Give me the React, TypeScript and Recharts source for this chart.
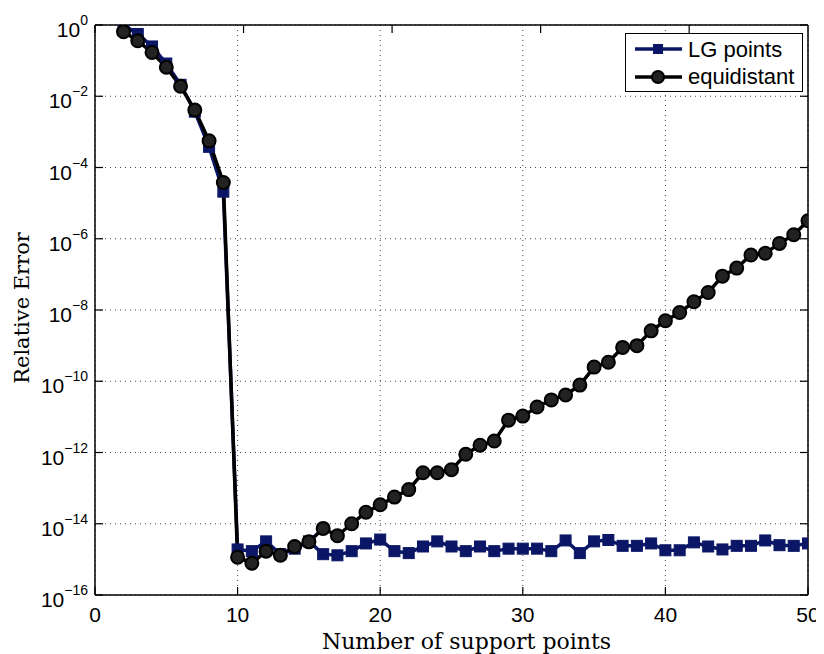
import React from "react";
import {
  LineChart,
  Line,
  XAxis,
  YAxis,
  CartesianGrid,
  Legend,
  Label,
} from "recharts";

const supportPoints = [
  2, 3, 4, 5, 6, 7, 8, 9, 10, 11, 12, 13, 14, 15, 16, 17, 18, 19, 20, 21, 22, 23, 24, 25,
  26, 27, 28, 29, 30, 31, 32, 33, 34, 35, 36, 37, 38, 39, 40, 41, 42, 43, 44, 45, 46, 47,
  48, 49, 50,
];

const lgPointsError = [
  1.0, 0.56, 0.25, 0.083, 0.021, 3.7e-3, 3.8e-4, 2.1e-5, 1.9e-15, 1.7e-15, 3.2e-15,
  1.4e-15, 2.0e-15, 3.2e-15, 1.4e-15, 1.3e-15, 1.7e-15, 2.8e-15, 3.6e-15, 1.7e-15,
  1.5e-15, 2.3e-15, 3.2e-15, 2.3e-15, 1.7e-15, 2.3e-15, 1.7e-15, 2.0e-15, 2.0e-15,
  2.0e-15, 1.7e-15, 3.4e-15, 1.5e-15, 3.2e-15, 3.5e-15, 2.4e-15, 2.4e-15, 2.8e-15,
  1.8e-15, 1.8e-15, 3.0e-15, 2.3e-15, 1.9e-15, 2.4e-15, 2.4e-15, 3.4e-15, 2.5e-15,
  2.4e-15, 2.8e-15,
];

const equidistantError = [
  0.65, 0.36, 0.17, 0.065, 0.019, 4.1e-3, 5.6e-4, 3.8e-5, 1.15e-15, 7.8e-16, 1.7e-15,
  1.3e-15, 2.3e-15, 3.1e-15, 7.4e-15, 4.6e-15, 1.0e-14, 2.1e-14, 3.4e-14, 5.6e-14,
  9.1e-14, 2.7e-13, 2.7e-13, 3.3e-13, 8.9e-13, 1.6e-12, 2.1e-12, 8.1e-12, 1.05e-11,
  1.9e-11, 3.0e-11, 4.1e-11, 7.8e-11, 2.5e-10, 3.4e-10, 8.9e-10, 1.0e-9, 2.6e-9, 5.0e-9,
  8.5e-9, 1.7e-8, 3.1e-8, 8.9e-8, 1.5e-7, 3.5e-7, 3.9e-7, 7.4e-7, 1.3e-6, 3.2e-6,
];

const xTicks = [0, 10, 20, 30, 40, 50];
const yTicks = [1e-16, 1e-14, 1e-12, 1e-10, 1e-8, 1e-6, 1e-4, 1e-2, 1];

const seriesNames = ["LG points", "equidistant"];

const data = supportPoints.map((n, i) => ({
  n,
  lg: lgPointsError[i],
  eq: equidistantError[i],
}));

const LG_COLOR = "#0b1766";
const EQ_COLOR = "#000000";
const SANS = "'Liberation Sans', Arial, sans-serif";
const SERIF = "'DejaVu Serif', serif";

const BottomTick = ({ x, y, payload }: any) => (
  <g>
    <line x1={x} x2={x} y1={y} y2={y - 8} stroke="#000" strokeWidth={1.2} />
    <text x={x} y={y + 27} textAnchor="middle" fontFamily={SANS} fontSize={21} fill="#000">
      {payload.value}
    </text>
  </g>
);

const TopTick = ({ x, y }: any) => (
  <line x1={x} x2={x} y1={y} y2={y + 8} stroke="#000" strokeWidth={1.2} />
);

const LeftTick = ({ x, y, payload }: any) => {
  const exp = Math.round(Math.log10(payload.value));
  return (
    <g>
      <line x1={x} x2={x + 8} y1={y} y2={y} stroke="#000" strokeWidth={1.2} />
      <text x={x - 7} y={y + 12} textAnchor="end" fontFamily={SANS} fontSize={21} fill="#000">
        10
        <tspan dy={-12} fontSize={14}>
          {exp === 0 ? "0" : `\u2212${-exp}`}
        </tspan>
      </text>
    </g>
  );
};

const RightTick = ({ x, y }: any) => (
  <line x1={x} x2={x - 8} y1={y} y2={y} stroke="#000" strokeWidth={1.2} />
);

const renderSquare = (props: any) => {
  const { cx, cy, index } = props;
  if (cx == null || cy == null) return <g key={`sq-${index}`} />;
  return (
    <rect key={`sq-${index}`} x={cx - 5.5} y={cy - 5.5} width={11} height={11} fill={LG_COLOR} stroke={LG_COLOR} />
  );
};

const renderCircle = (props: any) => {
  const { cx, cy, index } = props;
  if (cx == null || cy == null) return <g key={`ci-${index}`} />;
  return (
    <circle key={`ci-${index}`} cx={cx} cy={cy} r={6.5} fill="#222" stroke={EQ_COLOR} strokeWidth={2} />
  );
};

const XTitle = ({ viewBox }: any) => (
  <text
    x={viewBox.x + viewBox.width / 2 + 15}
    y={viewBox.y + 54}
    textAnchor="middle"
    fontFamily={SERIF}
    fontSize={22}
    fill="#000"
  >
    Number of support points
  </text>
);

const YTitle = ({ viewBox }: any) => {
  const cx = 14;
  const cy = viewBox.y + viewBox.height / 2 - 2;
  return (
    <text
      x={cx}
      y={cy}
      transform={`rotate(-90, ${cx}, ${cy})`}
      textAnchor="middle"
      dominantBaseline="central"
      fontFamily={SERIF}
      fontSize={21}
      fill="#000"
    >
      Relative Error
    </text>
  );
};

const LegendBox = () => (
  <svg width={178} height={59} style={{ display: "block" }}>
    <rect x={0.5} y={0.5} width={177} height={58} fill="#fff" stroke="#000" strokeWidth={1} />
    <line x1={10} x2={57} y1={16} y2={16} stroke={LG_COLOR} strokeWidth={3.5} />
    <rect x={28} y={11} width={10} height={10} fill={LG_COLOR} />
    <text x={63} y={24} fontFamily={SANS} fontSize={22} fill="#000">
      {seriesNames[0]}
    </text>
    <line x1={10} x2={57} y1={44} y2={44} stroke={EQ_COLOR} strokeWidth={3.5} />
    <circle cx={33} cy={44} r={6} fill="#222" stroke={EQ_COLOR} strokeWidth={2} />
    <text x={63} y={51} fontFamily={SANS} fontSize={22} fill="#000">
      {seriesNames[1]}
    </text>
  </svg>
);

export default function App() {
  return (
    <div style={{ width: 816, height: 646 }}>
      <LineChart
        width={816}
        height={646}
        data={data}
        margin={{ top: 16, right: 15, left: 0, bottom: 0 }}
      >
        <CartesianGrid stroke="#444" strokeDasharray="1 4" />
        <XAxis
          dataKey="n"
          type="number"
          domain={[0, 50]}
          ticks={xTicks}
          interval={0}
          allowDataOverflow
          height={59}
          tickSize={0}
          tickMargin={0}
          tickLine={false}
          axisLine={{ stroke: "#000", strokeWidth: 1.5 }}
          tick={<BottomTick />}
        >
          <Label content={<XTitle />} />
        </XAxis>
        <XAxis
          xAxisId="t"
          orientation="top"
          type="number"
          domain={[0, 50]}
          ticks={xTicks}
          interval={0}
          allowDataOverflow
          height={1}
          tickSize={0}
          tickMargin={0}
          tickLine={false}
          axisLine={{ stroke: "#000", strokeWidth: 1.5 }}
          tick={<TopTick />}
        />
        <YAxis
          type="number"
          scale="log"
          domain={[1e-16, 1]}
          ticks={yTicks}
          interval={0}
          allowDataOverflow
          width={87}
          tickSize={0}
          tickMargin={0}
          tickLine={false}
          axisLine={{ stroke: "#000", strokeWidth: 1.5 }}
          tick={<LeftTick />}
        >
          <Label content={<YTitle />} />
        </YAxis>
        <YAxis
          yAxisId="r"
          orientation="right"
          type="number"
          scale="log"
          domain={[1e-16, 1]}
          ticks={yTicks}
          interval={0}
          allowDataOverflow
          width={1}
          tickSize={0}
          tickMargin={0}
          tickLine={false}
          axisLine={{ stroke: "#000", strokeWidth: 1.5 }}
          tick={<RightTick />}
        />
        <Legend
          layout="vertical"
          align="center"
          verticalAlign="middle"
          content={<LegendBox />}
          wrapperStyle={{ left: 617, top: 25, width: 178, height: 59 }}
        />
        <Line
          type="linear"
          dataKey="lg"
          name={seriesNames[0]}
          stroke={LG_COLOR}
          strokeWidth={3.5}
          dot={renderSquare}
          activeDot={false}
          isAnimationActive={false}
        />
        <Line
          type="linear"
          dataKey="eq"
          name={seriesNames[1]}
          stroke={EQ_COLOR}
          strokeWidth={3.5}
          dot={renderCircle}
          activeDot={false}
          isAnimationActive={false}
        />
      </LineChart>
    </div>
  );
}
